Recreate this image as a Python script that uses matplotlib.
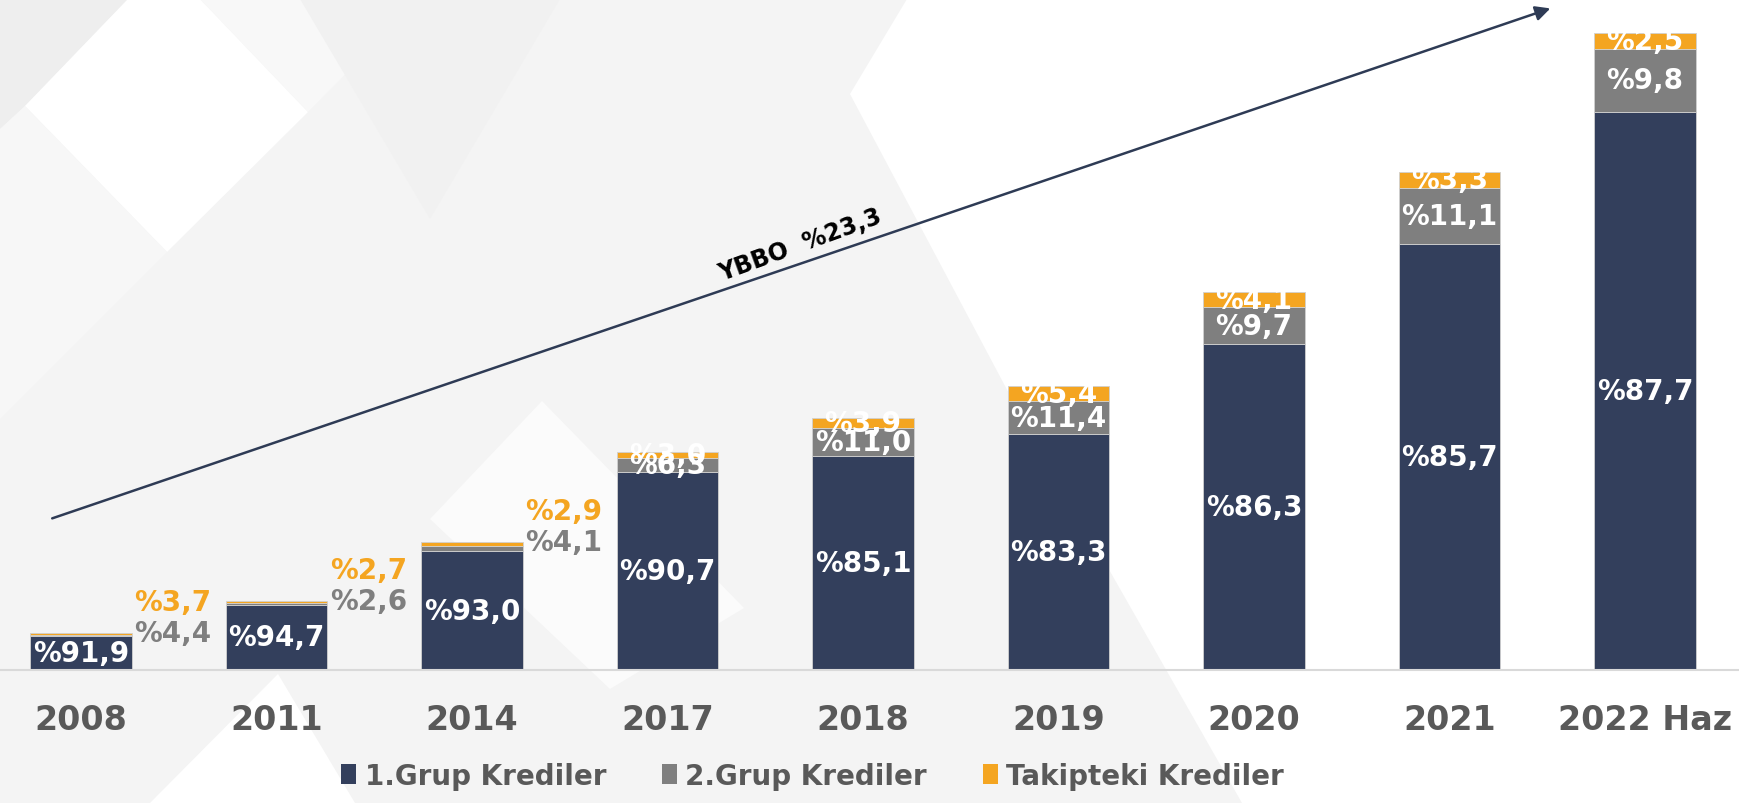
import matplotlib
matplotlib.use('Agg')
import matplotlib.pyplot as plt
from matplotlib.patches import Polygon, Patch

# veriler
yillar = ['2008', '2011', '2014', '2017', '2018', '2019', '2020', '2021', '2022 Haz']
toplam = [33, 62, 115, 197, 227, 256, 341, 449, 574]   # bar boyu (goreli)
grup1 = [91.9, 94.7, 93.0, 90.7, 85.1, 83.3, 86.3, 85.7, 87.7]
grup2 = [4.4, 2.6, 4.1, 6.3, 11.0, 11.4, 9.7, 11.1, 9.8]
takip = [3.7, 2.7, 2.9, 3.0, 3.9, 5.4, 4.1, 3.3, 2.5]
seriler = ['1.Grup Krediler', '2.Grup Krediler', 'Takipteki Krediler']
ybbo = 'YBBO  %23,3'

lacivert = '#333f5c'
gri = '#7f7f7f'
turuncu = '#f4a521'
yazi_gri = '#595959'

def yuzde(v):
    return '%' + f'{v:.1f}'.replace('.', ',')

W, H = 1740, 804
fig = plt.figure(figsize=(W / 100, H / 100), dpi=100)
fig.patch.set_facecolor('white')

# arka plan desenleri (piksel, ust-sol orijin)
desen = [
    ([(0, 0), (907, 0), (850, 95), (1013, 402), (1242, 804), (0, 804)], '#f4f4f4'),
    ([(0, 0), (128, 0), (25, 107), (0, 130)], '#eeeeee'),
    ([(128, 0), (200, 0), (308, 113), (167, 253), (25, 107)], 'white'),
    ([(200, 0), (420, 0), (308, 113)], '#f8f8f8'),
    ([(0, 130), (25, 107), (167, 253), (0, 420)], '#f7f7f7'),
    ([(278, 675), (150, 804), (355, 804)], 'white'),
    ([(542, 402), (744, 609), (610, 690), (430, 520)], '#fbfbfb'),
    ([(300, 0), (560, 0), (430, 220)], '#f1f1f1'),
]
for pts, c in desen:
    fig.patches.append(Polygon([(x / W, 1 - y / H) for x, y in pts], closed=True,
                               transform=fig.transFigure, facecolor=c,
                               edgecolor='none', zorder=-10))

ax = fig.add_axes([0, 0.1654, 1, 0.8346])
ax.patch.set_alpha(0)
x = list(range(len(yillar)))
ax.set_xlim(-0.414, 8.486)
ax.set_ylim(0, 605)

h1, h2, h3 = [], [], []
for t, a, b, c in zip(toplam, grup1, grup2, takip):
    s = a + b + c
    h1.append(t * a / s)
    h2.append(t * b / s)
    h3.append(t * c / s)

bw = 0.52
alt2 = h1
alt3 = [p + q for p, q in zip(h1, h2)]
ax.bar(x, h1, bw, color=lacivert, edgecolor='#d0d0d0', linewidth=0.6)
ax.bar(x, h2, bw, bottom=alt2, color=gri, edgecolor='#d0d0d0', linewidth=0.6)
ax.bar(x, h3, bw, bottom=alt3, color=turuncu, edgecolor='#d0d0d0', linewidth=0.6)

fs = 20
for i in x:
    ax.text(i, h1[i] / 2, yuzde(grup1[i]), ha='center', va='center',
            color='white', fontsize=fs, fontweight='bold')
    if i < 3:
        ax.text(i + 0.47, toplam[i], yuzde(grup2[i]), ha='center', va='center',
                color=gri, fontsize=fs, fontweight='bold')
        ax.text(i + 0.47, toplam[i] + 28, yuzde(takip[i]), ha='center', va='center',
                color=turuncu, fontsize=fs, fontweight='bold')
    else:
        ax.text(i, alt2[i] + h2[i] / 2, yuzde(grup2[i]), ha='center', va='center',
                color='white', fontsize=fs, fontweight='bold')
        ax.text(i, alt3[i] + h3[i] / 2, yuzde(takip[i]), ha='center', va='center',
                color='white', fontsize=fs, fontweight='bold')

ax.set_xticks(x)
ax.set_xticklabels(yillar, fontsize=24, fontweight='bold', color=yazi_gri)
ax.tick_params(axis='x', length=0, pad=24)
ax.set_yticks([])
for sp in ['top', 'right', 'left']:
    ax.spines[sp].set_visible(False)
ax.spines['bottom'].set_color('#d9d9d9')
ax.spines['bottom'].set_linewidth(1.5)

# YBBO oku
ax.annotate('', xy=(0.891, 0.986), xytext=(0.030, 0.226),
            xycoords='axes fraction', textcoords='axes fraction',
            arrowprops=dict(arrowstyle='-|>', color='#2e3b55', lw=1.8,
                            mutation_scale=22, shrinkA=0, shrinkB=0))
fig.text(0.46, 0.695, ybbo, rotation=20, ha='center', va='center',
         fontsize=17, fontweight='bold', color='black')

handles = [Patch(facecolor=c, edgecolor='none') for c in [lacivert, gri, turuncu]]
leg = fig.legend(handles, seriler, loc='center', bbox_to_anchor=(0.467, 0.034),
                 ncol=3, frameon=False, fontsize=20, handlelength=0.55,
                 handleheight=0.75, handletextpad=0.3, columnspacing=2.0)
for t in leg.get_texts():
    t.set_fontweight('bold')
    t.set_color(yazi_gri)

fig.savefig('out.png', dpi=100)
